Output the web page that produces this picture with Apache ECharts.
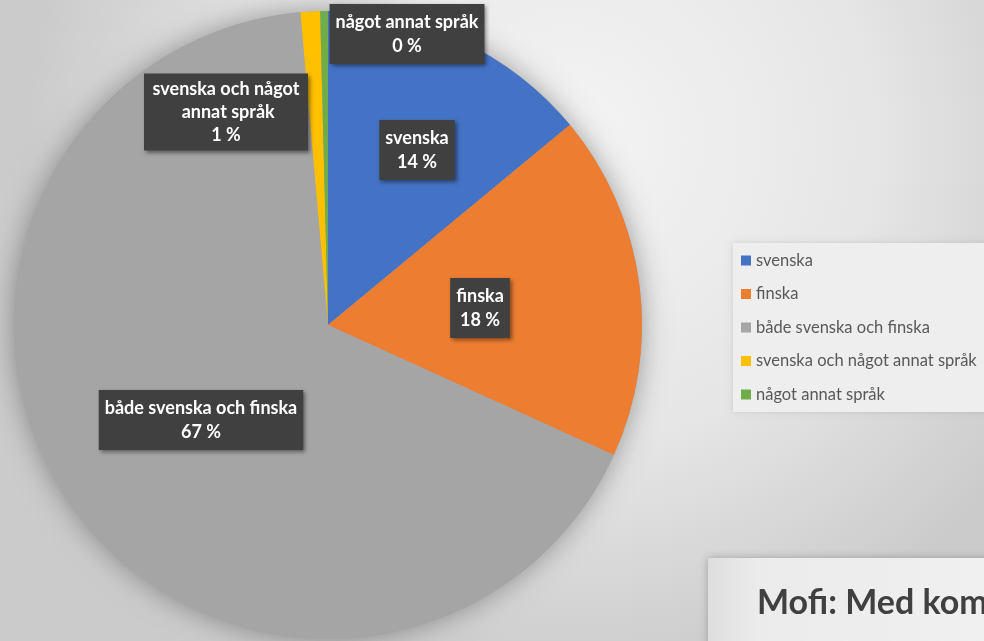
<!DOCTYPE html>
<html>
<head>
<meta charset="utf-8">
<script src="https://cdn.jsdelivr.net/npm/echarts@6/dist/echarts.min.js"></script>
<style>
  html, body { margin: 0; padding: 0; }
  #chart { width: 984px; height: 641px; }
</style>
</head>
<body>
<div id="chart"></div>
<script>
  // andel per språkgrupp (procent)
  const categories = ['svenska', 'finska', 'både svenska och finska', 'svenska och något annat språk', 'något annat språk'];
  const shares = [14.0, 17.8, 66.8, 1.0, 0.4];
  const colors = ['#4472C4', '#ED7D31', '#A5A5A5', '#FFC000', '#70AD47'];

  // etikettplacering (mittpunkt för varje ruta)
  const labelCenters = [[417, 150], [480, 308], [201, 420], [226, 112], [407, 34]];

  const chart = echarts.init(document.getElementById('chart'));

  const pieData = categories.map((name, i) => {
    const item = { name: name, value: shares[i], itemStyle: { color: colors[i] } };
    if (i === 3) {
      item.label = { width: 160, overflow: 'break', padding: [4, 2], lineHeight: 23 };
    }
    return item;
  });

  const option = {
    backgroundColor: {
      type: 'radial', x: 0.58, y: 0.22, r: 0.85,
      colorStops: [
        { offset: 0, color: '#f4f4f4' },
        { offset: 0.55, color: '#e6e6e6' },
        { offset: 1, color: '#cbcbcb' }
      ]
    },
    animation: false,
    legend: {
      orient: 'vertical',
      left: 733,
      top: 243,
      padding: [9, 60, 9, 8],
      backgroundColor: '#eeeeee',
      shadowColor: 'rgba(0,0,0,0.12)',
      shadowBlur: 6,
      icon: 'rect',
      itemWidth: 10,
      itemHeight: 10,
      itemGap: 16.5,
      selectedMode: false,
      data: categories,
      textStyle: { fontFamily: 'Lato', fontSize: 16.5, color: '#595959', lineHeight: 16 }
    },
    graphic: [
      {
        type: 'rect', left: 708, top: 558, z: 1,
        shape: { width: 320, height: 120 },
        style: {
          fill: { type: 'linear', x: 0, y: 0, x2: 1, y2: 0,
            colorStops: [{ offset: 0, color: '#dedede' }, { offset: 0.15, color: '#ebebeb' }, { offset: 1, color: '#f1f1f1' }] },
          shadowColor: 'rgba(0,0,0,0.25)', shadowBlur: 8
        }
      },
      {
        type: 'text', left: 757, top: 586, z: 2,
        style: { text: 'Mofi: Med kommentarer', fill: '#404040', font: 'bold 34px Lato' }
      }
    ],
    series: [
      {
        // skugga bakom hela cirkeln
        type: 'pie',
        silent: true,
        center: [328, 325],
        radius: 314,
        z: 1,
        label: { show: false },
        labelLine: { show: false },
        data: [{ value: 1, itemStyle: { color: '#a5a5a5', shadowColor: 'rgba(0,0,0,0.35)', shadowBlur: 28 } }]
      },
      {
        type: 'pie',
        center: [328, 325],
        radius: 314,
        startAngle: 90,
        clockwise: true,
        z: 2,
        itemStyle: { borderWidth: 0 },
        labelLine: { show: false },
        label: {
          show: true,
          position: 'inside',
          fontFamily: 'Lato',
          fontWeight: 'bold',
          fontSize: 18,
          lineHeight: 24,
          color: '#ffffff',
          backgroundColor: '#404040',
          padding: [6, 6],
          shadowColor: 'rgba(0,0,0,0.45)',
          shadowBlur: 4,
          shadowOffsetX: 2,
          shadowOffsetY: 2,
          align: 'center',
          formatter: p => p.name + '\n' + Math.round(p.percent) + ' %'
        },
        labelLayout: p => ({
          x: labelCenters[p.dataIndex][0],
          y: labelCenters[p.dataIndex][1],
          align: 'center',
          verticalAlign: 'middle'
        }),
        data: pieData
      }
    ]
  };

  chart.setOption(option);
</script>
</body>
</html>
